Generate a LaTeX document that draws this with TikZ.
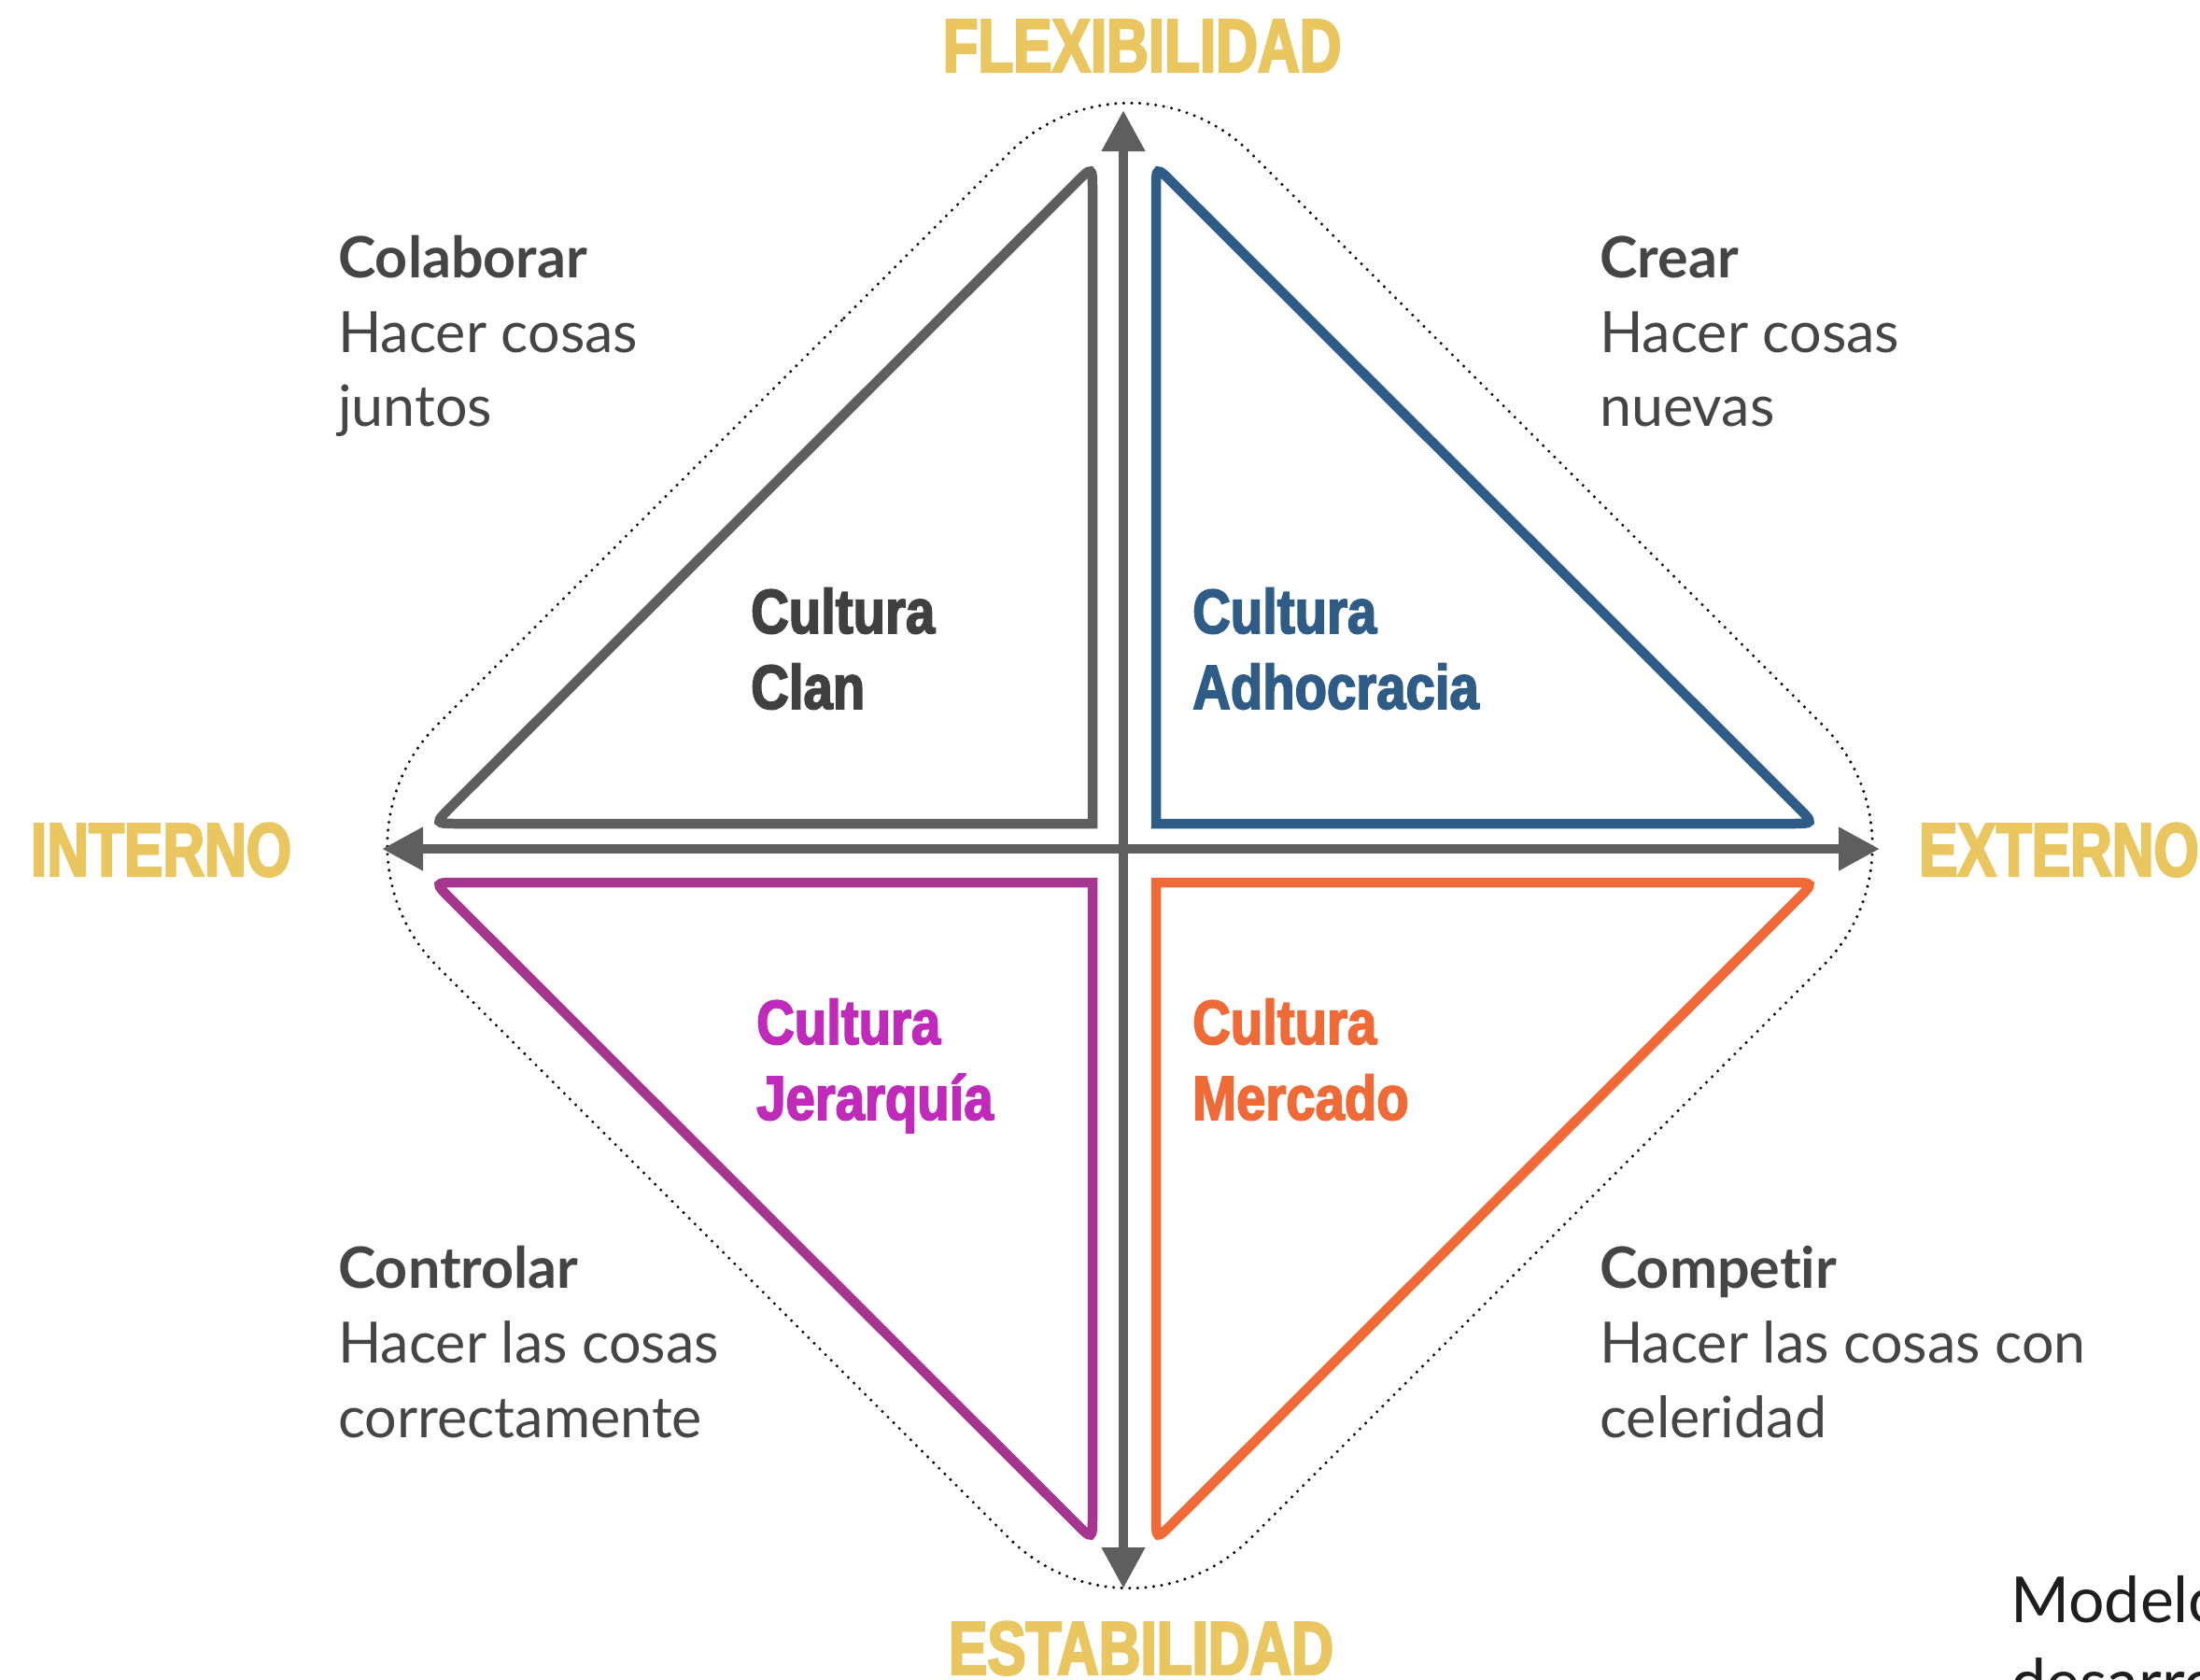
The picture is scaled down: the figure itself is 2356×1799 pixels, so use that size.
\documentclass[tikz,border=0pt]{standalone}
\usepackage{fontspec}
\usetikzlibrary{arrows.meta,calc}
\newfontfamily\axisfont{Liberation Sans Bold}[FakeStretch=0.765,FakeBold=3]
\newfontfamily\culfont{Liberation Sans Bold}[FakeStretch=0.84,FakeBold=2.5]
\newfontfamily\descfont{Lato}[Ligatures={NoCommon}]
\definecolor{gold}{HTML}{EAC660}
\definecolor{axisgrey}{HTML}{5E5E5E}
\definecolor{clantext}{HTML}{404040}
\definecolor{adhoblue}{HTML}{2F5C87}
\definecolor{jerline}{HTML}{A5358F}
\definecolor{jertext}{HTML}{C02ABA}
\definecolor{merorange}{HTML}{EF6A37}
\definecolor{desctext}{HTML}{454545}
\definecolor{notetext}{HTML}{1E1E1E}
\tikzset{
  axisline/.style={line width=10.5pt, draw=axisgrey,
    arrows={Triangle[length=44pt,width=44pt]-Triangle[length=44pt,width=44pt]}},
  triline/.style={line width=10.5pt, line join=miter},
  dotline/.style={line width=3.4pt, draw=black, dash pattern=on 0pt off 8.6pt, line cap=round},
  axislabel/.style={inner sep=0pt, text=gold, font=\axisfont\fontsize{81}{81}\selectfont},
  cullabel/.style={inner sep=0pt, anchor=base west, font=\culfont\fontsize{67}{67}\selectfont},
  desctitle/.style={inner sep=0pt, anchor=base west, text=desctext, font=\descfont\bfseries\fontsize{61}{61}\selectfont},
  descline/.style={inner sep=0pt, anchor=base west, text=desctext, font=\descfont\fontsize{61}{61}\selectfont},
}
\begin{document}
\begin{tikzpicture}[x=1pt,y=-1pt]
\useasboundingbox (0,0) rectangle (2356,1799);
\clip (0,0) rectangle (2356,1799);

% dotted rounded diamond
\coordinate (dtop) at (1210,34.5);
\coordinate (dright) at (2081,905.5);
\coordinate (dbottom) at (1210,1776.5);
\coordinate (dleft) at (339,905.5);
\coordinate (dstart) at ($(dleft)!0.5!(dtop)$);
\draw[dotline, rounded corners=183pt] (dstart) -- (dtop) -- (dright) -- (dbottom) -- (dleft) -- cycle;

% triangles
\def\rd{26pt}
% Clan
\coordinate (cV) at (1170,178);
\coordinate (cR) at (1170,882);
\coordinate (cA) at (465,882);
\draw[triline, draw=axisgrey] ($(cV)!\rd!(cA)$) .. controls (cV) .. ($(cV)!\rd!(cR)$) -- (cR)
  -- ($(cA)!\rd!(cR)$) .. controls (cA) .. ($(cA)!\rd!(cV)$) -- cycle;
% Adhocracia
\coordinate (aV) at (1238,178);
\coordinate (aR) at (1238,882);
\coordinate (aA) at (1943,882);
\draw[triline, draw=adhoblue] ($(aV)!\rd!(aA)$) .. controls (aV) .. ($(aV)!\rd!(aR)$) -- (aR)
  -- ($(aA)!\rd!(aR)$) .. controls (aA) .. ($(aA)!\rd!(aV)$) -- cycle;
% Jerarquia
\coordinate (jV) at (1170,1649);
\coordinate (jR) at (1170,945);
\coordinate (jA) at (465,945);
\draw[triline, draw=jerline] ($(jV)!\rd!(jA)$) .. controls (jV) .. ($(jV)!\rd!(jR)$) -- (jR)
  -- ($(jA)!\rd!(jR)$) .. controls (jA) .. ($(jA)!\rd!(jV)$) -- cycle;
% Mercado
\coordinate (mV) at (1238,1649);
\coordinate (mR) at (1238,945);
\coordinate (mA) at (1943,945);
\draw[triline, draw=merorange] ($(mV)!\rd!(mA)$) .. controls (mV) .. ($(mV)!\rd!(mR)$) -- (mR)
  -- ($(mA)!\rd!(mR)$) .. controls (mA) .. ($(mA)!\rd!(mV)$) -- cycle;

% axes
\coordinate (ttip) at (1203,118);
\coordinate (btip) at (1203,1701);
\coordinate (ltip) at (409,909);
\coordinate (rtip) at (2013,909);
\draw[axisline] (btip) -- (ttip);
\draw[axisline] (ltip) -- (rtip);

% axis labels
\node[axislabel, anchor=base] (flex) at (1223,77) {FLEXIBILIDAD};
\node[axislabel, anchor=base] (estab) at (1222,1793) {ESTABILIDAD};
\node[axislabel, anchor=base west] (interno) at (33,938) {INTERNO};
\node[axislabel, anchor=base west] (externo) at (2055,938) {EXTERNO};

% culture labels
\node[cullabel, text=clantext] (clan1) at (804,678) {Cultura};
\node[cullabel, text=clantext] (clan2) at (804,759) {Clan};
\node[cullabel, text=adhoblue] (adho1) at (1277,678) {Cultura};
\node[cullabel, text=adhoblue] (adho2) at (1277,759) {Adhocracia};
\node[cullabel, text=jertext] (jer1) at (810,1118) {Cultura};
\node[cullabel, text=jertext] (jer2) at (810,1199) {Jerarquía};
\node[cullabel, text=merorange] (mer1) at (1277,1118) {Cultura};
\node[cullabel, text=merorange] (mer2) at (1277,1199) {Mercado};

% descriptions
\node[desctitle] (col1) at (362,297) {Colaborar};
\node[descline] (col2) at (362,377) {Hacer cosas};
\node[descline] (col3) at (362,456) {juntos};
\node[desctitle] (cre1) at (1713,297) {Crear};
\node[descline] (cre2) at (1713,377) {Hacer cosas};
\node[descline] (cre3) at (1713,456) {nuevas};
\node[desctitle] (con1) at (362,1379) {Controlar};
\node[descline] (con2) at (362,1459) {Hacer las cosas};
\node[descline] (con3) at (362,1539) {correctamente};
\node[desctitle] (com1) at (1713,1379) {Competir};
\node[descline] (com2) at (1713,1459) {Hacer las cosas con};
\node[descline] (com3) at (1713,1539) {celeridad};

% note (cut off at the edge)
\node[inner sep=0pt, anchor=base west, text=notetext, font=\descfont\fontsize{68}{68}\selectfont] (note1) at (2153,1737) {Modelo};
\node[inner sep=0pt, anchor=base west, text=notetext, font=\descfont\fontsize{68}{68}\selectfont] (note2) at (2153,1825) {desarrollo};
\end{tikzpicture}
\end{document}
